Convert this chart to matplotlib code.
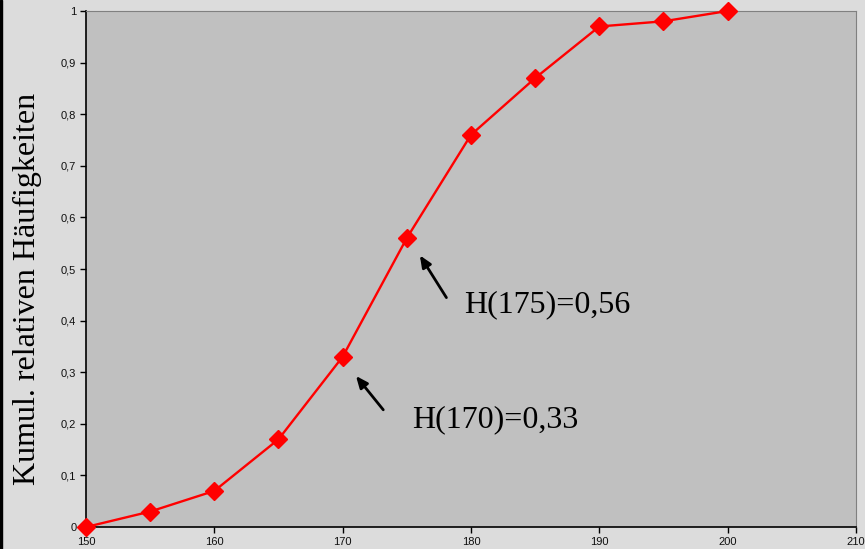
import numpy as np
import matplotlib.pyplot as plt

# Körpergröße (cm) und kumulierte relative Häufigkeiten
groesse = [150, 155, 160, 165, 170, 175, 180, 185, 190, 195, 200]
kum_haeuf = [0, 0.03, 0.07, 0.17, 0.33, 0.56, 0.76, 0.87, 0.97, 0.98, 1.0]

x_ticks = [150, 160, 170, 180, 190, 200, 210]
y_ticks = [0, 0.1, 0.2, 0.3, 0.4, 0.5, 0.6, 0.7, 0.8, 0.9, 1]
y_labels = ["0", "0,1", "0,2", "0,3", "0,4", "0,5", "0,6", "0,7", "0,8", "0,9", "1"]

fig = plt.figure(figsize=(8.65, 5.49), dpi=100, facecolor="#dcdcdc")
ax = fig.add_axes([0.0994, 0.040, 0.8902, 0.940])
ax.set_facecolor("#c0c0c0")

ax.plot(groesse, kum_haeuf, color="red", lw=1.7, marker="D", ms=9,
        clip_on=False, zorder=3)

ax.set_xlim(150, 210)
ax.set_ylim(0, 1)
ax.set_xticks(x_ticks)
ax.set_xticklabels([str(t) for t in x_ticks], fontsize=8, family="Liberation Sans",
                   color="#101010")
ax.set_yticks(y_ticks)
ax.set_yticklabels(y_labels, fontsize=8, family="Liberation Sans", color="#101010")
ax.tick_params(direction="out", length=4, width=1, pad=3)

for s in ["top", "right"]:
    ax.spines[s].set_color("#808080")
for s in ["left", "bottom"]:
    ax.spines[s].set_color("black")
    ax.spines[s].set_linewidth(1.2)

fig.text(27 / 865, 1 - 289 / 549, "Kumul. relativen Häufigkeiten",
         family="Liberation Serif", fontsize=23, rotation=90,
         ha="center", va="center")

arr = dict(arrowstyle="-|>,head_length=0.7,head_width=0.3", color="black",
           lw=2, mutation_scale=10)
ax.annotate("", xy=(175.9, 0.531), xytext=(178.2, 0.44), arrowprops=arr)
ax.text(179.5, 0.43, "H(175)=0,56", family="Liberation Serif", fontsize=23,
        va="center", ha="left")
ax.annotate("", xy=(170.9, 0.297), xytext=(173.3, 0.223), arrowprops=arr)
ax.text(175.4, 0.207, "H(170)=0,33", family="Liberation Serif", fontsize=23,
        va="center", ha="left")

# schmaler dunkler Rand links
fig.patches.append(plt.Rectangle((0, 0), 0.0025, 1, transform=fig.transFigure,
                                 color="black", zorder=5))

fig.savefig("out.png", dpi=100, facecolor=fig.get_facecolor())
